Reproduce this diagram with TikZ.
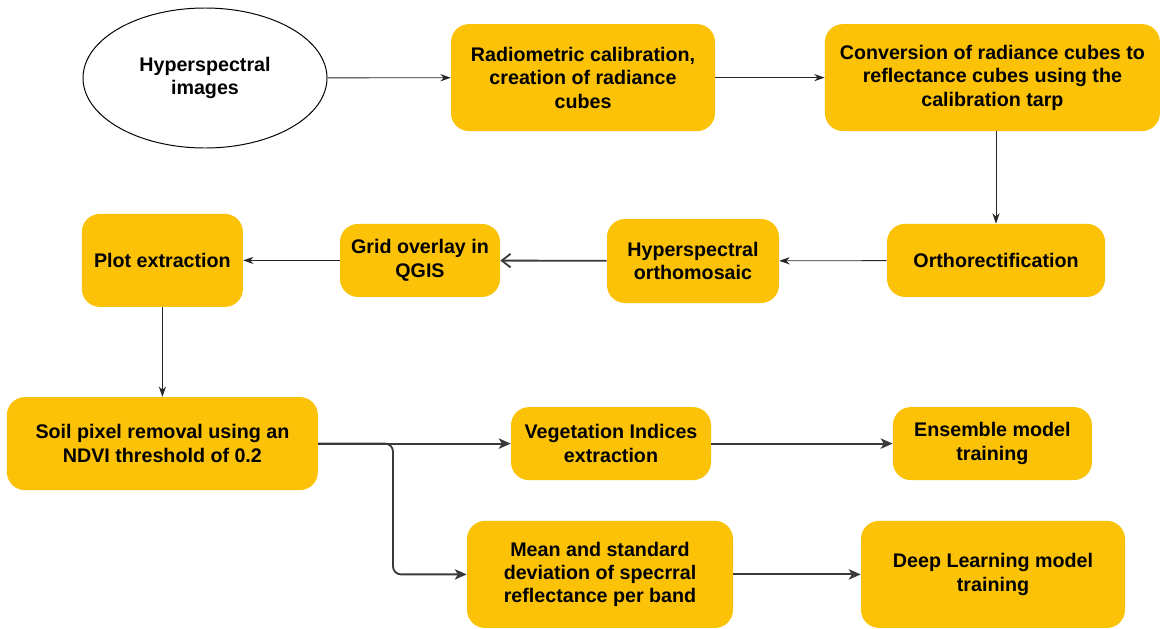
\documentclass[tikz,border=0pt]{standalone}
\usepackage{fontspec}
\setmainfont{Liberation Sans}
\usepackage{tikz}
\usetikzlibrary{shapes.geometric, arrows, arrows.meta, positioning, calc}
\usepackage{xcolor}
\definecolor{flowgold}{RGB}{251,194,8}
\definecolor{flowgray}{RGB}{58,58,58}
\tikzstyle{process} = [rectangle, rounded corners=0.45cm, text centered, align=center, draw=none, fill=flowgold, font=\fontsize{14}{16.7}\selectfont\bfseries]
\tikzstyle{arrow} = [->,>={Stealth[length=2.6mm,width=1.8mm]},line width=0.6pt,black!85]
\tikzstyle{bigarrow} = [->,>={Stealth[length=3mm,width=2.6mm,inset=0.8mm]},line width=1.3pt,flowgray]

\begin{document}
\begin{tikzpicture}
\useasboundingbox (0,0) rectangle (29.075,-15.7);
% Top row
\node[ellipse, draw, line width=0.7pt, minimum width=6.1cm, minimum height=3.5cm, font=\fontsize{14}{16.7}\selectfont\bfseries, align=center] (hyper) at (5.125,-1.95) {Hyperspectral\\images};

\node[process, minimum width=6.6cm, minimum height=2.675cm] (radio) at (14.575,-1.94) {
    Radiometric calibration,\\creation of radiance\\cubes
};

\node[process, minimum width=8.375cm, minimum height=2.675cm] (conv) at (24.81,-1.94) {
    Conversion of radiance cubes to\\reflectance cubes using the\\calibration tarp
};

% Middle row
\node[process, minimum width=5.45cm, minimum height=1.825cm] (ortho) at (24.9,-6.51) {Orthorectification};

\node[process, minimum width=4.3cm, minimum height=2.1cm] (mosaic) at (17.325,-6.525) {
    Hyperspectral\\orthomosaic
};

\node[process, minimum width=4cm, minimum height=1.825cm] (grid) at (10.5,-6.51) {
    Grid overlay in\\QGIS
};

\node[process, minimum width=4.025cm, minimum height=2.325cm] (plot) at (4.06,-6.51) {Plot extraction};

% Bottom rows
\node[process, minimum width=7.775cm, minimum height=2.325cm] (soil) at (4.06,-11.09) {
    Soil pixel removal using an\\NDVI threshold of 0.2
};

\node[process, minimum width=5cm, minimum height=1.825cm] (veg) at (15.275,-11.09) {
    Vegetation Indices\\extraction
};

\node[process, minimum width=4.975cm, minimum height=1.825cm] (ens) at (24.81,-11.09) {
    Ensemble model\\training
};

\node[process, minimum width=6.65cm, minimum height=2.675cm] (mean) at (15,-14.36) {
    Mean and standard\\deviation of specrral\\reflectance per band
};

\node[process, minimum width=6.6cm, minimum height=2.675cm] (deep) at (24.825,-14.36) {
    Deep Learning model\\training
};

\coordinate (split) at (9.825,-11.09);

% Arrows
\draw[arrow] (hyper) -- (radio);
\draw[arrow] (radio) -- (conv);
\draw[arrow] (conv.south -| ortho.north) -- (ortho.north);
\draw[arrow] (ortho) -- (mosaic);
\draw[-{Straight Barb[length=2.2mm,width=3.4mm]}, line width=1.3pt, flowgray] (mosaic) -- (grid);
\draw[arrow] (grid) -- (plot);
\draw[arrow] (plot) -- (soil);
\draw[bigarrow] (soil) -- (veg);
\draw[bigarrow, rounded corners=0.2cm] (soil.east) -- (split) |- (mean.west);
\draw[bigarrow] (veg) -- (ens);
\draw[bigarrow] (mean) -- (deep);
\end{tikzpicture}
\end{document}
